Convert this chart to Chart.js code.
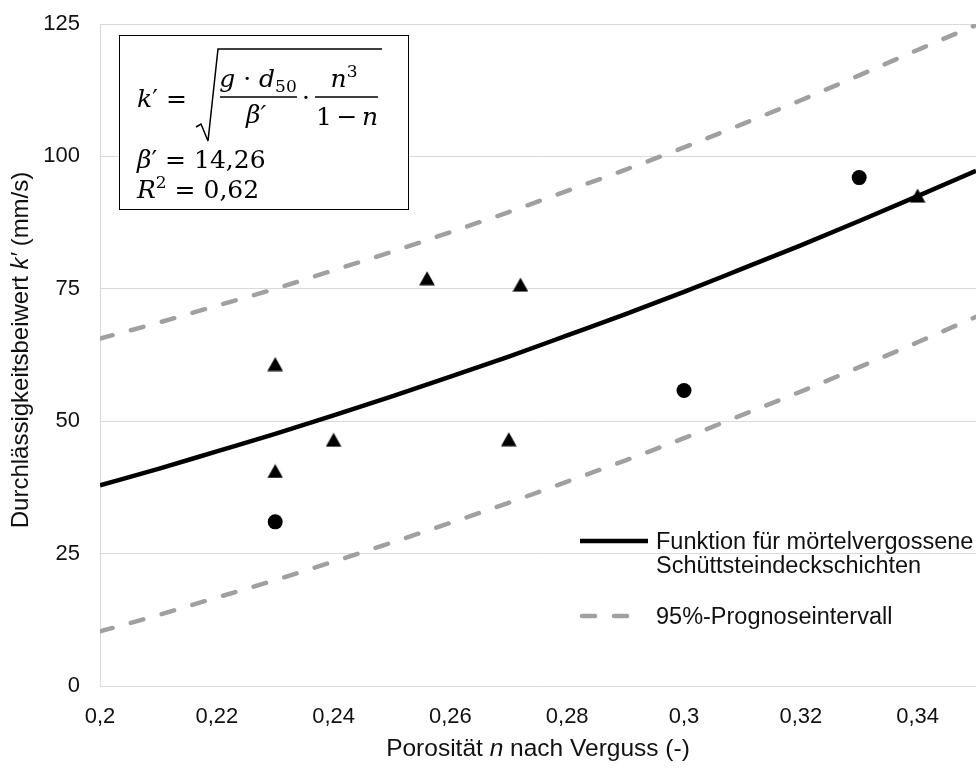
<!DOCTYPE html>
<html><head><meta charset="utf-8">
<script src="https://cdn.jsdelivr.net/npm/chart.js@4.4.1/dist/chart.umd.min.js"></script>
<style>
html,body{margin:0;padding:0;background:#fff;}
#wrap{position:relative;width:976px;height:774px;overflow:hidden;}
#c{position:absolute;left:0;top:0;}
svg.ov{position:absolute;left:0;top:0;pointer-events:none;}
.sans{font-family:'Liberation Sans',Arial,sans-serif;fill:#111;}
.math{font-family:'DejaVu Serif',serif;fill:#000;}
</style></head><body>
<div id="wrap">
<canvas id="c" width="976" height="774"></canvas>
<svg class="ov" width="976" height="774" xmlns="http://www.w3.org/2000/svg">
  <!-- formula box -->
  <rect x="119.5" y="35.5" width="289" height="174" fill="#fff" stroke="#000" stroke-width="1"/>
  <g class="math" font-size="25">
    <text x="137" y="107"><tspan font-style="italic">k</tspan>′</text>
    <text x="166" y="107">=</text>
    <path d="M196 127 L201 124 L208 141 L218 49 L382 49" fill="none" stroke="#000" stroke-width="1.5"/>
    <text x="258" y="87" text-anchor="middle"><tspan font-style="italic">g</tspan> · <tspan font-style="italic">d</tspan><tspan font-size="17" dy="5">50</tspan></text>
    <line x1="220" y1="97" x2="297" y2="97" stroke="#000" stroke-width="1.3"/>
    <text x="256" y="123" text-anchor="middle" font-style="italic">β′</text>
    <text x="306" y="106" text-anchor="middle">·</text>
    <text x="344" y="87" text-anchor="middle"><tspan font-style="italic">n</tspan><tspan font-size="17" dy="-10">3</tspan></text>
    <line x1="315" y1="97" x2="378" y2="97" stroke="#000" stroke-width="1.3"/>
    <text x="347" y="125" text-anchor="middle" textLength="62" lengthAdjust="spacing">1 − <tspan font-style="italic">n</tspan></text>
    <text x="137" y="168"><tspan font-style="italic">β</tspan>′ = 14,26</text>
    <text x="137" y="198"><tspan font-style="italic">R</tspan><tspan font-size="17" dy="-10">2</tspan><tspan dy="10"> = 0,62</tspan></text>
  </g>
  <!-- legend -->
  <line x1="580" y1="541" x2="648" y2="541" stroke="#000" stroke-width="4.5"/>
  <line x1="582" y1="616" x2="632" y2="616" stroke="#a0a0a0" stroke-width="4.5" stroke-linecap="round" stroke-dasharray="13 19"/>
  <g class="sans" font-size="23.5">
    <text x="656" y="549">Funktion für mörtelvergossene</text>
    <text x="656" y="573">Schüttsteindeckschichten</text>
    <text x="656" y="624">95%-Prognoseintervall</text>
  </g>
  <!-- axis titles -->
  <g class="sans">
    <text x="538" y="756" text-anchor="middle" font-size="24.5">Porosität <tspan font-style="italic">n</tspan> nach Verguss (-)</text>
    <text transform="translate(28,350) rotate(-90)" text-anchor="middle" font-size="24">Durchlässigkeitsbeiwert  <tspan font-style="italic">k′</tspan> (mm/s)</text>
  </g>
</svg>
</div>
<script>
// Fitted function and 95% prediction interval
const nGrid  = [0.20,0.21,0.22,0.23,0.24,0.25,0.26,0.27,0.28,0.29,0.30,0.31,0.32,0.33,0.34,0.35];
const kFit   = [37.9,41.0,44.3,47.6,51.1,54.7,58.4,62.2,66.2,70.2,74.4,78.8,83.2,87.8,92.5,97.3];
const kUpper = [65.6,68.6,71.8,75.0,78.5,82.0,85.7,89.5,93.5,97.5,101.7,106.1,110.6,115.3,120.1,124.8];
const kLower = [10.3,13.4,16.7,20.0,23.5,27.1,30.8,34.6,38.6,42.6,46.8,51.2,55.6,60.2,64.9,69.7];
// Measured points
const triN = [0.23,0.23,0.24,0.256,0.27,0.272,0.34];
const triK = [60.8,40.6,46.5,77.0,46.6,75.8,92.6];
const dotN = [0.23,0.30,0.33];
const dotK = [31.0,55.8,96.0];
// Axis ticks
const xTickValues = [0.20,0.22,0.24,0.26,0.28,0.30,0.32,0.34];
const xTickLabels = ['0,2','0,22','0,24','0,26','0,28','0,3','0,32','0,34'];
const yTickValues = [0,25,50,75,100,125];
const yTickLabels = ['0','25','50','75','100','125'];

function pts(xs, ys){ return xs.map((x,i)=>({x:x, y:ys[i]})); }
function makeTri(){
  const c=document.createElement('canvas'); c.width=16; c.height=15;
  const g=c.getContext('2d'); g.fillStyle='#000'; g.beginPath();
  g.moveTo(8,0.5); g.lineTo(15.8,14.6); g.lineTo(0.2,14.6); g.closePath(); g.fill();
  return c;
}
const tickFont = {family:"'Liberation Sans', Arial, sans-serif", size:22};
new Chart(document.getElementById('c'), {
  type:'scatter',
  data:{datasets:[
    {data:pts(nGrid,kFit), showLine:true, borderColor:'#000', borderWidth:4.5, pointRadius:0, cubicInterpolationMode:'monotone', order:0},
    {data:pts(nGrid,kUpper), showLine:true, borderColor:'#a0a0a0', borderWidth:4.5, borderDash:[13,19], borderCapStyle:'round', pointRadius:0, cubicInterpolationMode:'monotone', order:1},
    {data:pts(nGrid,kLower), showLine:true, borderColor:'#a0a0a0', borderWidth:4.5, borderDash:[13,19], borderCapStyle:'round', pointRadius:0, cubicInterpolationMode:'monotone', order:1},
    {data:pts(triN,triK), pointStyle:makeTri(), pointRadius:8, backgroundColor:'#000', borderWidth:0, order:3},
    {data:pts(dotN,dotK), pointStyle:'circle', pointRadius:7.5, backgroundColor:'#000', borderWidth:0, order:3}
  ]},
  options:{
    responsive:false, animation:false, devicePixelRatio:1,
    layout:{autoPadding:false, padding:{top:24,right:0,bottom:0,left:0}},
    plugins:{legend:{display:false}, tooltip:{enabled:false}},
    scales:{
      x:{type:'linear', min:0.2, max:0.35,
         afterBuildTicks:s=>{s.ticks=xTickValues.map(v=>({value:v}));},
         afterFit:s=>{s.height=88; s.paddingLeft=0; s.paddingRight=0;},
         ticks:{callback:(v,i)=>xTickLabels[i], font:tickFont, color:'#111', padding:18, maxRotation:0, autoSkip:false},
         grid:{display:false, drawTicks:false},
         border:{display:true, color:'#d9d9d9', width:1}},
      y:{type:'linear', min:0, max:125,
         afterBuildTicks:s=>{s.ticks=yTickValues.map(v=>({value:v}));},
         afterFit:s=>{s.width=100; s.paddingTop=0; s.paddingBottom=0;},
         ticks:{callback:(v,i)=>yTickLabels[i], font:tickFont, color:'#111', padding:20},
         grid:{color:'#d9d9d9', lineWidth:1, drawTicks:false},
         border:{display:true, color:'#d9d9d9', width:1}}
    }
  }
});
</script>
</body></html>
